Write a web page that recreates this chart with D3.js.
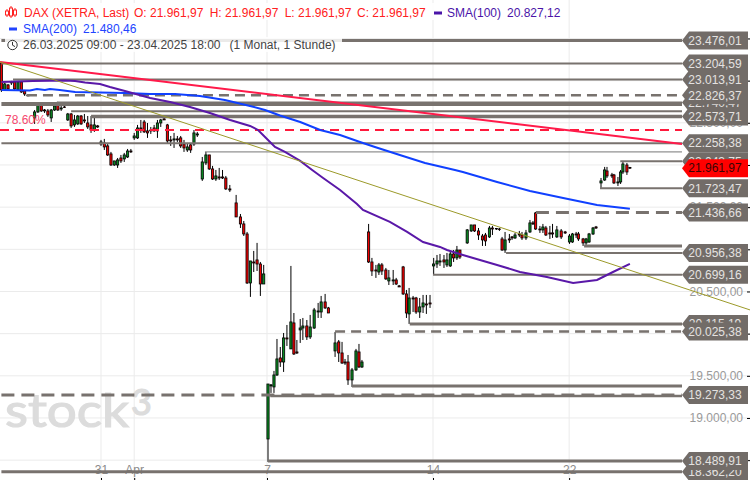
<!DOCTYPE html>
<html><head><meta charset="utf-8">
<script src="https://cdnjs.cloudflare.com/ajax/libs/d3/7.8.5/d3.min.js"></script>
<style>html,body{margin:0;padding:0;background:#fff;overflow:hidden}svg{display:block;font-family:"Liberation Sans",Arial,sans-serif}</style>
</head><body><div id="c"></div>
<script>
const candleSlot=[0,1,2,3,4,5,6,7,8,
10,11,12,13,14,15,16,17,18,19,
20,21,22,23,24,25,26,27,28,29,
30,31,32,33,34,35,36,37,38,39,
40,41,42,43,44,45,46,47,48,49,
50,51,52,53,54,55,56,57,58,59,
60.5,61.6,62.6,63.6,64.6,65.6,66.6,67.6,68.8,
70.7,72,73,74,75,76,77,78,79,
80.3,81.2,82.1,83,84,85,86,87.2,88.1,89,
90,90.8,92,93,94.2,95.4,96.3,97.5,98.5,
100.5,101.6,102.6,103.5,104.4,105.6,106.8,107.7,108.6,
110.6,111.6,112.8,113.7,114.6,115.8,116.7,118,118.9,119.8,
121,122,122.8,124,124.9,126,127,128,129.1,
130.2,131.2,132.1,133.3,134.2,135.2,136.2,137.2,138.1,
140.3,141.5,142.5,143.7,144.9,145.8,147,147.9,149.1,150,
150.8,151.7,153,153.8,154.7,156,156.8,158,159.2,160.1,
160.9,162.2,163.1,164,165.2,166,167.3,168.6,169.8,
171.1,172,173.1,173.8,175.2,176.1,177,178.2,179.1,
180.6,181.7,182.4,183.9,184.5,185.7,186.5,187.2,188.4,189.3];
const candleOpen=[23210,22890,22949,22985,22985,22890,22985,22878,22830,
22558,22629,22724,22652,22641,22558,22652,22724,22664,22688,
22534,22605,22475,22487,22581,22534,22498,22475,22415,22463,
22249,22261,22226,22131,22000,22000,22083,22072,22095,22166,
22321,22321,22439,22510,22404,22415,22439,22404,22498,22546,
22475,22297,22297,22309,22321,22249,22178,22238,22249,22356,
21834,22024,22119,21953,21834,21858,21858,21846,21716,
21550,21384,21301,21182,20601,20850,20874,20826,20589,
18751,19380,19368,19510,19712,19664,19949,19819,20127,19783,
20044,20067,20091,19961,20067,20257,20257,20376,20305,
19795,19902,19771,19664,19664,19451,19570,19783,19605,
21206,20850,20755,20731,20815,20755,20625,20625,20637,20566,
20791,20471,20234,20423,20423,20257,20317,20352,20364,
20803,20826,20850,20874,20815,20803,20945,20898,20992,
21076,21218,21289,21218,21158,21170,21147,21253,21247,21241,
21123,20992,21123,21147,21135,21182,21170,21135,21206,21313,
21431,21241,21230,21253,21194,21194,21147,21218,21206,
21087,21087,21182,21182,21123,21076,21087,21182,21265,
21787,21822,21929,21882,21882,21787,21799,21917,22000,21970];
const candleClose=[22890,22961,22902,22973,22902,22985,22866,22842,22819,
22629,22724,22641,22641,22593,22652,22700,22652,22676,22682,
22605,22463,22534,22581,22487,22522,22451,22415,22475,22451,
22273,22214,22119,22000,22048,22060,22048,22119,22166,22155,
22344,22439,22427,22392,22380,22404,22404,22498,22534,22534,
22285,22285,22309,22297,22226,22202,22214,22178,22380,22368,
22036,22119,21953,21834,21870,21846,21846,21716,21704,
21384,21301,21182,20601,20862,20838,20826,20589,20708,
19403,19392,19510,19700,19664,19949,19937,20139,19759,19771,
20067,20091,19961,20079,20281,20269,20376,20305,20245,
19890,19771,19652,19652,19451,19570,19795,19605,19664,
20850,20743,20743,20815,20743,20649,20661,20637,20589,20554,
20471,20245,20423,20411,20257,20317,20364,20340,20352,
20826,20862,20862,20850,20874,20945,20898,20992,20909,
21230,21289,21218,21170,21111,21099,21253,21241,21241,21235,
20992,21111,21111,21135,21170,21170,21135,21194,21313,21301,
21241,21230,21265,21170,21182,21182,21230,21147,21194,
21158,21182,21170,21123,21076,21123,21182,21253,21253,
21811,21941,21870,21870,21787,21799,21917,22012,21917,21961.97];
const candleHigh=[23222,22973,22961,22997,22997,22997,22997,22890,22830,
22652,22736,22736,22664,22664,22664,22724,22748,22700,22700,
22617,22617,22593,22593,22593,22605,22581,22581,22581,22475,
22297,22309,22261,22155,22048,22083,22119,22143,22190,22190,
22380,22475,22534,22534,22498,22451,22475,22534,22546,22558,
22487,22344,22380,22344,22344,22297,22249,22261,22415,22392,
22095,22155,22119,21989,21941,21965,21941,21870,21763,
21645,21419,21336,21206,20862,20981,21076,20850,20815,
19403,19403,19558,19937,19842,20008,20103,20803,20245,19925,
20174,20186,20162,20222,20305,20364,20447,20471,20317,
20020,19925,19902,19700,19747,19593,19819,19878,19688,
21301,20898,20815,20838,20838,20779,20755,20755,20661,20577,
20803,20518,20542,20447,20436,20423,20459,20459,20459,
20898,20933,20945,20933,20957,20969,20992,21040,20992,
21241,21289,21289,21253,21182,21194,21277,21277,21253,21253,
21147,21206,21182,21158,21194,21218,21206,21230,21348,21336,
21443,21277,21301,21277,21277,21301,21277,21241,21218,
21182,21194,21206,21206,21135,21135,21194,21265,21277,
21846,21977,21977,21906,21894,21858,21941,22048,22024,21977];
const candleLow=[22866,22890,22890,22949,22890,22878,22854,22819,22819,
22487,22617,22629,22617,22570,22510,22641,22641,22641,22676,
22522,22439,22451,22475,22475,22498,22427,22380,22392,22439,
22226,22178,22107,21989,21989,21965,22024,22036,22083,22143,
22297,22309,22380,22380,22321,22368,22392,22321,22451,22534,
22261,22226,22202,22273,22202,22155,22155,22143,22226,22332,
21811,22000,21941,21822,21811,21822,21834,21704,21680,
21384,21253,21158,20589,20436,20731,20743,20447,20589,
18479,19297,19297,19498,19605,19546,19854,19819,19747,19759,
19890,19925,19925,19937,20056,20186,20186,20293,20245,
19724,19664,19641,19629,19392,19368,19558,19593,19593,
20838,20684,20661,20696,20696,20637,20577,20577,20577,20554,
20459,20186,20115,20257,20234,20186,20245,20234,20305,
20696,20779,20803,20779,20791,20791,20850,20874,20886,
21064,21206,21206,21111,21040,21040,21135,21170,21230,21218,
20981,20957,21076,21111,21123,21147,21111,21111,21194,21289,
21230,21194,21194,21158,21123,21135,21135,21123,21182,
21064,21076,21135,21099,21040,21052,21076,21170,21241,
21728,21811,21846,21846,21775,21751,21775,21894,21882,21953];

const sma200Slot=[0,8.6,10.7,13.1,14.6,17.6,22.2,29.7,37.2,44.8,52.3,59.8,67.3,74.9,79.4,83.9,90,96,102,108,112.5,120,127.6,136.6,139,149.3,159.2,169.2,179.4,189.3];
const sma200Value=[22890,22884,22902,22890,22902,22890,22866,22860,22854,22842,22842,22819,22771,22700,22652,22587,22510,22415,22356,22273,22214,22119,22024,21941,21917,21799,21692,21609,21526,21480.46];
const sma100Slot=[0,9.5,14.6,19.2,22.2,25.2,29.7,32.7,37.2,44.8,50.8,56.8,62.8,68.9,74.9,77.3,79.4,82.4,85.4,90,93.6,96.9,102,107.1,108.9,117,122.2,127,132.1,134.2,139,149.3,156.2,164.3,172.2,179.4,184.2,189.3];
const sma100Value=[22985,22997,23000,23002,22997,22979,22961,22925,22878,22795,22747,22688,22617,22534,22463,22415,22332,22214,22155,22048,21941,21846,21704,21538,21467,21325,21206,21087,21028,20992,20933,20815,20731,20672,20601,20637,20731,20827.12];

const levelValue=[23476.01,23204.59,23013.91,22826.37,22740.47,22723,22637,22573.71,22258.38,22155,22043.75,21723.47,21436.66,21040,20956.38,20699.16,20115.19,20025.38,19380,19273.33,19262,18489.91,18362.20];
const levelStart=[0,0,3.5,7.7,16.7,0,21,27,0,61.3,186.4,180.3,161,175.5,152,130,123,100.5,105.6,0,81,80.3,0];
const levelWidth=[3,2,2,2.4,2,4,2,3.5,2,1,2,2,3,3,2,2,3,2.4,3,3,2.5,3,3];
const levelDash=[0,0,0,1,0,0,0,0,0,0,0,0,2,0,0,0,0,1,0,2,0,0,0];
const labelledLevels=[22740.47,22043.75,20115.19,18362.20,23476.01,23204.59,23013.91,22826.37,22573.71,22258.38,21723.47,21436.66,20956.38,20699.16,20025.38,19273.33,18489.91];
const lastPrice=21961.97;
const fibLevel=22415, fibLabel="78.60%";
const resistanceLine=[[-0.42,23222],[205,22249]];
const supportLine=[[-0.42,23222],[225.5,20281]];
const priceTicks=[18500,19000,19500,20000,20500,21000,21500,22000,22500,23000,23500];
const dateTickSlot=[30,40,80,130,171];
const dateTickLabel=["31","Apr","7","14","22"];

const W=750,H=480;
const x=d3.scaleLinear().domain([0,189]).range([1.4,628.9]);
const y=d3.scaleLinear().domain([18489.91,23476.01]).range([461,40.5]);
const de=d3.formatLocale({decimal:",",thousands:".",grouping:[3],currency:["","€"]});
const fmt=de.format(",.2f");
const svg=d3.select("#c").append("svg").attr("width",W).attr("height",H);

// grid
svg.append("g").selectAll("line").data(priceTicks).join("line")
 .attr("x1",0).attr("x2",W).attr("y1",d=>y(d)).attr("y2",d=>y(d)).attr("stroke","#ebebeb").attr("stroke-width",1);
svg.append("g").selectAll("line").data(dateTickSlot).join("line")
 .attr("x1",d=>x(d)).attr("x2",d=>x(d)).attr("y1",0).attr("y2",H).attr("stroke","#ebebeb").attr("stroke-width",1);

// watermark
const wm=svg.append("g").attr("fill","#dcdcdc").attr("stroke","#dcdcdc").attr("stroke-width",1.2).style("font-family","Lato");
wm.append("text").attr("x",5).attr("y",427).attr("font-size",47).attr("textLength",124).attr("lengthAdjust","spacingAndGlyphs").text("stock");
wm.append("text").attr("x",131).attr("y",415).attr("font-size",36).text("3");

// axes
const yAxis=d3.axisLeft(y).tickValues(priceTicks).tickFormat(fmt).tickSize(3).tickPadding(4);
const gy=svg.append("g").attr("transform",`translate(${W},0)`).call(yAxis);
gy.select(".domain").remove();
gy.selectAll("text").attr("fill","#9a9a9a").attr("font-size",12).style("font-family","Liberation Sans");
gy.selectAll("line").attr("stroke","#000");
const xAxis=d3.axisTop(x).tickValues(dateTickSlot).tickFormat((d,i)=>dateTickLabel[i]).tickSize(2).tickPadding(4);
const gx=svg.append("g").attr("transform",`translate(0,${H})`).call(xAxis);
gx.select(".domain").remove();
gx.selectAll("text").attr("fill","#8a8a8a").attr("font-size",12).style("font-family","Liberation Sans");
gx.selectAll("line").attr("stroke","#000");

// candles
const candles=candleSlot.map((s,i)=>({s,o:candleOpen[i],c:candleClose[i],h:candleHigh[i],l:candleLow[i]}));
const cg=svg.append("g");
cg.selectAll("line").data(candles).join("line")
 .attr("x1",d=>x(d.s)).attr("x2",d=>x(d.s)).attr("y1",d=>y(d.h)).attr("y2",d=>y(d.l))
 .attr("stroke","#000").attr("stroke-width",1);
cg.selectAll("rect").data(candles).join("rect")
 .attr("x",d=>x(d.s)-1.1).attr("width",2.2)
 .attr("y",d=>y(Math.max(d.o,d.c))).attr("height",d=>Math.abs(y(d.o)-y(d.c)))
 .attr("fill",d=>d.c>=d.o?"#0a8a22":"#f00000").attr("stroke","#000").attr("stroke-width",0.8);

// levels
const levels=levelValue.map((v,i)=>({v,s:levelStart[i],w:levelWidth[i],d:levelDash[i]}));
const tipX=682;
svg.append("g").selectAll("line").data(levels).join("line")
 .attr("x1",d=>x(d.s)).attr("x2",tipX).attr("y1",d=>y(d.v)).attr("y2",d=>y(d.v))
 .attr("stroke",d=>d.w===1?"#777":"#78726e").attr("stroke-width",d=>d.w)
 .attr("stroke-dasharray",d=>d.d===1?"10,6":d.d===2?"13,7":null);

// fib line
svg.append("line").attr("x1",0).attr("x2",tipX).attr("y1",y(fibLevel)).attr("y2",y(fibLevel))
 .attr("stroke","#ff1a3c").attr("stroke-width",2).attr("stroke-dasharray","9,6");
svg.append("text").attr("x",5).attr("y",124).attr("font-size",12).attr("fill","#f5486e").text(fibLabel);

// SMA and trend lines
const ln=d3.line().x(d=>x(d[0])).y(d=>y(d[1]));
svg.append("path").datum(sma200Slot.map((s,i)=>[s,sma200Value[i]])).attr("d",ln).attr("fill","none").attr("stroke","#1040ff").attr("stroke-width",2);
svg.append("path").datum(sma100Slot.map((s,i)=>[s,sma100Value[i]])).attr("d",ln).attr("fill","none").attr("stroke","#5a18a8").attr("stroke-width",2);
svg.append("path").datum(resistanceLine).attr("d",ln).attr("fill","none").attr("stroke","#ff1a4a").attr("stroke-width",2);
svg.append("path").datum(supportLine).attr("d",ln).attr("fill","none").attr("stroke","#9c9a2a").attr("stroke-width",1);

// labels
function tag(v,fill,txt){
 const c=y(v),h=9;
 const g=svg.append("g");
 g.append("path").attr("d",`M${tipX},${c}L${tipX+7},${c-h}H748V${c+h}H${tipX+7}Z`).attr("fill",fill);
 g.append("text").attr("x",715).attr("y",c+4.3).attr("text-anchor","middle").attr("font-size",12).attr("fill",txt).text(fmt(v));
}
labelledLevels.forEach(v=>tag(v,"#726c68","#e4e2e0"));
tag(lastPrice,"#ff0000","#3a0505");

// header
const hd=svg.append("g").attr("font-size",12);
hd.append("rect").attr("x",3).attr("y",3).attr("width",562).attr("height",17).attr("fill","#fff").attr("opacity",.85);
hd.append("rect").attr("x",3).attr("y",20).attr("width",140).attr("height",17).attr("fill","#fff").attr("opacity",.85);
hd.append("rect").attr("x",5).attr("y",37).attr("width",337).attr("height",15).attr("fill","#fff").attr("opacity",.85);
const red="#ff2020",pur="#4a14a8",blu="#2244ff";
[["DAX (XETRA, Last)",24],["O: 21.961,97",134],["H: 21.961,97",209.7],["L: 21.961,97",284.7],["C: 21.961,97",357]]
 .forEach(t=>hd.append("text").attr("x",t[1]).attr("y",17).attr("fill",red).text(t[0]));
hd.append("text").attr("x",447).attr("y",17).attr("fill",pur).text("SMA(100)");
hd.append("text").attr("x",507).attr("y",17).attr("fill",pur).text("20.827,12");
hd.append("text").attr("x",23).attr("y",33).attr("fill",blu).text("SMA(200)");
hd.append("text").attr("x",83).attr("y",33).attr("fill",blu).text("21.480,46");
hd.append("text").attr("x",23).attr("y",49).attr("fill","#444").text("26.03.2025 09:00 - 23.04.2025 18:00");
hd.append("text").attr("x",229.5).attr("y",49).attr("fill","#444").text("(1 Monat, 1 Stunde)");
hd.append("rect").attr("x",434).attr("y",11.5).attr("width",8).attr("height",3).attr("fill",pur);
hd.append("rect").attr("x",9).attr("y",27.5).attr("width",8).attr("height",3).attr("fill",blu);
// candle icon
[[7,10,15],[11,7,16],[15,9,15]].forEach(a=>{
 hd.append("line").attr("x1",a[0]).attr("x2",a[0]).attr("y1",a[1]-1).attr("y2",a[2]+2).attr("stroke",red).attr("stroke-width",1);
 hd.append("rect").attr("x",a[0]-1.5).attr("y",a[1]+1).attr("width",3).attr("height",a[2]-a[1]-1).attr("fill","#fff").attr("stroke",red).attr("stroke-width",1);
});
// clock icon
hd.append("circle").attr("cx",12.5).attr("cy",45).attr("r",4.7).attr("fill","none").attr("stroke","#333").attr("stroke-width",1);
hd.append("path").attr("d","M12.5,42V45.2L15,46.6").attr("fill","none").attr("stroke","#333").attr("stroke-width",1);
</script></body></html>
